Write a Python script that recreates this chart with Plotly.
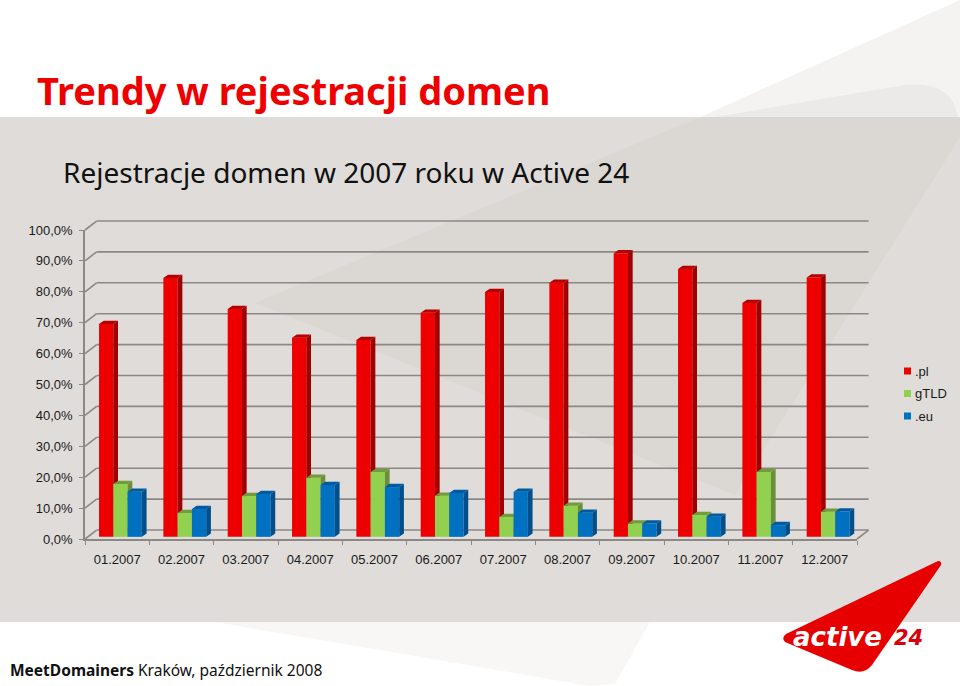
import plotly.graph_objects as go

months = ["01.2007", "02.2007", "03.2007", "04.2007", "05.2007", "06.2007",
          "07.2007", "08.2007", "09.2007", "10.2007", "11.2007", "12.2007"]
pl = [68.9, 83.8, 73.7, 64.4, 63.7, 72.5, 79.2, 82.2, 91.8, 86.7, 75.7, 83.9]
gtld = [17.1, 7.7, 13.2, 19.1, 21.0, 13.3, 6.4, 10.1, 4.3, 7.1, 21.0, 8.1]
eu = [14.6, 9.0, 13.9, 16.8, 16.1, 14.2, 14.6, 7.8, 4.3, 6.5, 3.8, 8.2]
y_ticks = [0, 10, 20, 30, 40, 50, 60, 70, 80, 90, 100]
y_labels = ["0,0%", "10,0%", "20,0%", "30,0%", "40,0%", "50,0%",
            "60,0%", "70,0%", "80,0%", "90,0%", "100,0%"]

W, H = 960, 686
X0, X1 = 85, 857      # front plane of the plot, pixels
Y0, Y100 = 539, 230
GRID = "#8b8886"
FONT = "Liberation Sans"
TAHOMA = "Noto Sans"

# fake 3d: depth of one bar and of the back wall, in axis units
BAR_W = 0.222
BAR_DX, BAR_DY = 0.073, 1.05
BASE = 0.7
WALL_DX, WALL_DY = 0.18, 2.91


def px(x):
    return x / W


def py(y):
    return 1 - y / H


def val_x(v):
    return px(X0 + (v + 0.5) * (X1 - X0) / 12)


def val_y(v):
    return py(Y0 - v * (Y0 - Y100) / 100)


def poly(points, color):
    path = "M" + " L".join(f"{px(x):.4f},{py(y):.4f}" for x, y in points) + " Z"
    return dict(type="path", xref="paper", yref="paper", path=path, fillcolor=color,
                line_width=0, layer="below")


def seg(v0, w0, v1, w1):
    return dict(type="line", xref="paper", yref="paper", x0=val_x(v0), y0=val_y(w0),
                x1=val_x(v1), y1=val_y(w1), line=dict(color=GRID, width=1.6), layer="below")


shapes = [
    # slide background
    dict(type="rect", xref="paper", yref="paper", x0=0, x1=1, y0=py(622), y1=py(117),
         fillcolor="#dfdcd9", line_width=0, layer="below"),
    poly([(700, 117), (960, 0), (960, 117)], "#f4f3f1"),
    dict(type="path", xref="paper", yref="paper", layer="below", fillcolor="#ebeae8", line_width=0,
         path=f"M{px(715)},{py(117)} L{px(905)},{py(85)} Q{px(952)},{py(80)} {px(958)},{py(117)} Z"),
    poly([(255, 303), (700, 117), (960, 117), (960, 137), (735, 495)], "#dbd7d3"),
    poly([(215, 622), (590, 686), (615, 684), (650, 622)], "#f8f7f6"),
]
for v in y_ticks:
    shapes.append(seg(-0.5, v, -0.5 + WALL_DX, v + WALL_DY))
    shapes.append(seg(-0.5 + WALL_DX, v + WALL_DY, 11.5 + WALL_DX, v + WALL_DY))
shapes.append(seg(11.5, 0, 11.5 + WALL_DX, WALL_DY))

# logo
shapes.append(dict(
    type="path", xref="paper", yref="paper", fillcolor="#e60000", line_width=0,
    path=(f"M{px(938)},{py(561)} Q{px(942)},{py(561)} {px(941)},{py(565)} "
          f"L{px(872)},{py(665)} Q{px(864)},{py(675)} {px(852)},{py(670)} "
          f"L{px(785)},{py(642)} Q{px(781)},{py(638)} {px(786)},{py(634)} Z"),
))

# legend swatches
legend_rows = [(".pl", "#ee0000", 371), ("gTLD", "#92d050", 393.5), (".eu", "#0070c0", 416)]
for _, color, ly in legend_rows:
    shapes.append(dict(type="rect", xref="paper", yref="paper", x0=px(904), x1=px(911),
                       y0=py(ly + 3.5), y1=py(ly - 3.5), fillcolor=color, line_width=0))

series = [
    (".pl", pl, "#ee0000", "#a00000", "#b40000", -0.282, "x", "y"),
    ("gTLD", gtld, "#92d050", "#6b8f38", "#729c3c", -0.060, "x2", "y2"),
    (".eu", eu, "#0070c0", "#004f8c", "#005a9f", 0.162, "x3", "y3"),
]

fig = go.Figure()
for name, vals, front, side, top, off, xa, ya in series:
    fig.add_trace(go.Bar(
        x=list(range(len(months))), y=vals, base=BASE, name=name, width=BAR_W, offset=off,
        marker=dict(color=front, line_width=0), xaxis=xa, yaxis=ya, hoverinfo="skip",
    ))
    side_x, side_y, top_x, top_y = [], [], [], []
    for i, v in enumerate(vals):
        left = i + off
        right = left + BAR_W
        h = v + BASE
        side_x += [right, right + BAR_DX, right + BAR_DX, right, None]
        side_y += [h, h + BAR_DY, BASE + BAR_DY, BASE, None]
        top_x += [left, left + BAR_DX, right + BAR_DX, right, None]
        top_y += [h, h + BAR_DY, h + BAR_DY, h, None]
    for fx, fy, col in [(side_x, side_y, side), (top_x, top_y, top)]:
        fig.add_trace(go.Scatter(
            x=fx, y=fy, mode="lines", fill="toself", fillcolor=col, line=dict(width=0),
            xaxis=xa, yaxis=ya, showlegend=False, hoverinfo="skip",
        ))

annotations = [
    dict(text="<b>Trendy w rejestracji domen</b>", x=px(36), y=py(90), xanchor="left", yanchor="middle",
         font=dict(family=TAHOMA, size=38, color="#ee0000")),
    dict(text="Rejestracje domen w 2007 roku w Active 24", x=px(62), y=py(172), xanchor="left", yanchor="middle",
         font=dict(family=TAHOMA, size=28, color="#111111")),
    dict(text="<b>MeetDomainers</b> Kraków, październik 2008", x=px(9), y=py(670), xanchor="left", yanchor="middle",
         font=dict(family=TAHOMA, size=15.5, color="#111111")),
    dict(text="<b><i>active</i></b>", x=px(837), y=py(637), xanchor="center", yanchor="middle",
         font=dict(family="DejaVu Sans", size=26, color="#ffffff")),
    dict(text="<b><i>24</i></b>", x=px(908), y=py(638), xanchor="center", yanchor="middle",
         font=dict(family="DejaVu Sans", size=21, color="#d8000c")),
]
for name, _, ly in legend_rows:
    annotations.append(dict(text=name, x=px(914), y=py(ly), xanchor="left", yanchor="middle",
                            font=dict(family=FONT, size=13, color="#1a1a1a")))
for a in annotations:
    a.update(xref="paper", yref="paper", showarrow=False, borderpad=0)

dom_x = [px(X0), px(X1)]
dom_y = [py(Y0), py(Y100)]
hidden = dict(domain=dom_x, range=[-0.5, 11.5], visible=False)
hidden_y = dict(domain=dom_y, range=[0, 100], visible=False)

fig.update_layout(
    width=W, height=H, margin=dict(l=0, r=0, t=0, b=0, pad=0, autoexpand=False),
    paper_bgcolor="#ffffff", plot_bgcolor="rgba(0,0,0,0)",
    barmode="overlay", showlegend=False, shapes=shapes, annotations=annotations,
    font=dict(family=FONT, size=13, color="#1a1a1a"),
    xaxis=dict(
        domain=dom_x, range=[-0.5, 11.5], tickvals=list(range(12)), ticktext=months,
        ticks="", showgrid=False, zeroline=False, showline=True, linecolor=GRID, linewidth=1.6,
        ticklabelstandoff=8,
        minor=dict(tickvals=[i - 0.5 for i in range(13)], ticks="outside", ticklen=4,
                   tickcolor=GRID, tickwidth=1.2, showgrid=False),
    ),
    yaxis=dict(
        domain=dom_y, range=[0, 100], tickvals=y_ticks, ticktext=y_labels, ticks="outside",
        ticklen=4, tickcolor=GRID, tickwidth=1.2, showgrid=False, zeroline=False, showline=True,
        linecolor=GRID, linewidth=1.6, ticklabelstandoff=4,
    ),
    xaxis2=dict(hidden, overlaying="x", anchor="y2"),
    yaxis2=dict(hidden_y, overlaying="y", anchor="x2"),
    xaxis3=dict(hidden, overlaying="x", anchor="y3"),
    yaxis3=dict(hidden_y, overlaying="y", anchor="x3"),
)

fig.write_html("out.html", config=dict(displayModeBar=False),
               post_script="document.body.style.margin='0';document.body.style.overflow='hidden';")
